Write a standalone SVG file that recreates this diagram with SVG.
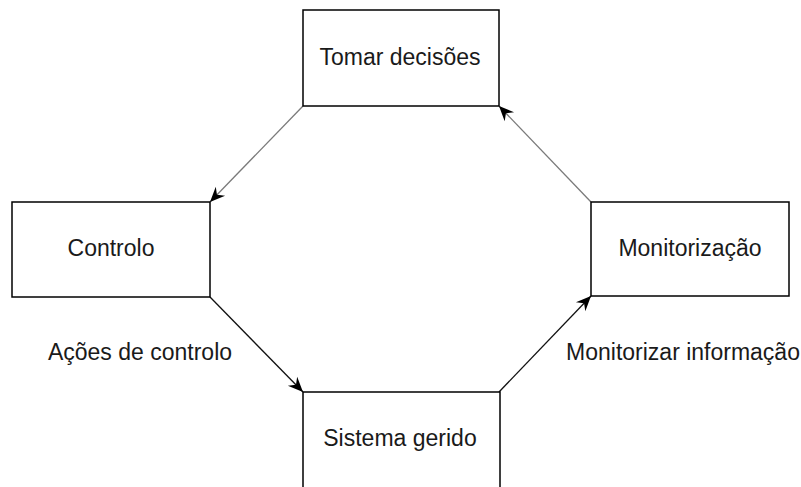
<svg xmlns="http://www.w3.org/2000/svg" width="801" height="487" viewBox="0 0 801 487">
<style>
.box{fill:#ffffff;stroke:#000000;stroke-width:1.5}
.t{font-family:"Liberation Sans",Arial,sans-serif;font-size:23px;fill:#1a1a1a;text-anchor:middle}
.c{fill:none;stroke-width:1.3}
.dark{stroke:#111111}
.gray{stroke:#7a7a7a}
</style>
<defs>
<marker id="ah" markerUnits="userSpaceOnUse" markerWidth="18" markerHeight="16" viewBox="-16 -8 18 16" refX="0" refY="0" orient="auto">
<path d="M0,0 L-15,-6.5 L-10,0 L-15,6.5 Z" fill="#000000"/>
</marker>
</defs>
<rect width="801" height="487" fill="#ffffff"/>
<g id="connectors">
<line class="c gray" x1="303" y1="106" x2="210" y2="202" marker-end="url(#ah)"/>
<line class="c dark" x1="210" y1="297" x2="303" y2="392" marker-end="url(#ah)"/>
<line class="c dark" x1="499" y1="392" x2="591" y2="296" marker-end="url(#ah)"/>
<line class="c gray" x1="591" y1="202" x2="499" y2="106" marker-end="url(#ah)"/>
</g>
<g id="tomar">
<rect class="box" x="303" y="10" width="196" height="96"/>
<text class="t" x="400" y="65">Tomar decisões</text>
</g>
<g id="controlo">
<rect class="box" x="12" y="202" width="198" height="95"/>
<text class="t" x="111" y="256">Controlo</text>
</g>
<g id="monitorizacao">
<rect class="box" x="591" y="202" width="198" height="94"/>
<text class="t" x="690" y="256">Monitorização</text>
</g>
<g id="sistema">
<rect class="box" x="303" y="392" width="197" height="100"/>
<text class="t" x="400" y="446">Sistema gerido</text>
</g>
<g id="labels">
<text class="t" x="140" y="360">Ações de controlo</text>
<text class="t" x="683" y="360">Monitorizar informação</text>
</g>
</svg>
